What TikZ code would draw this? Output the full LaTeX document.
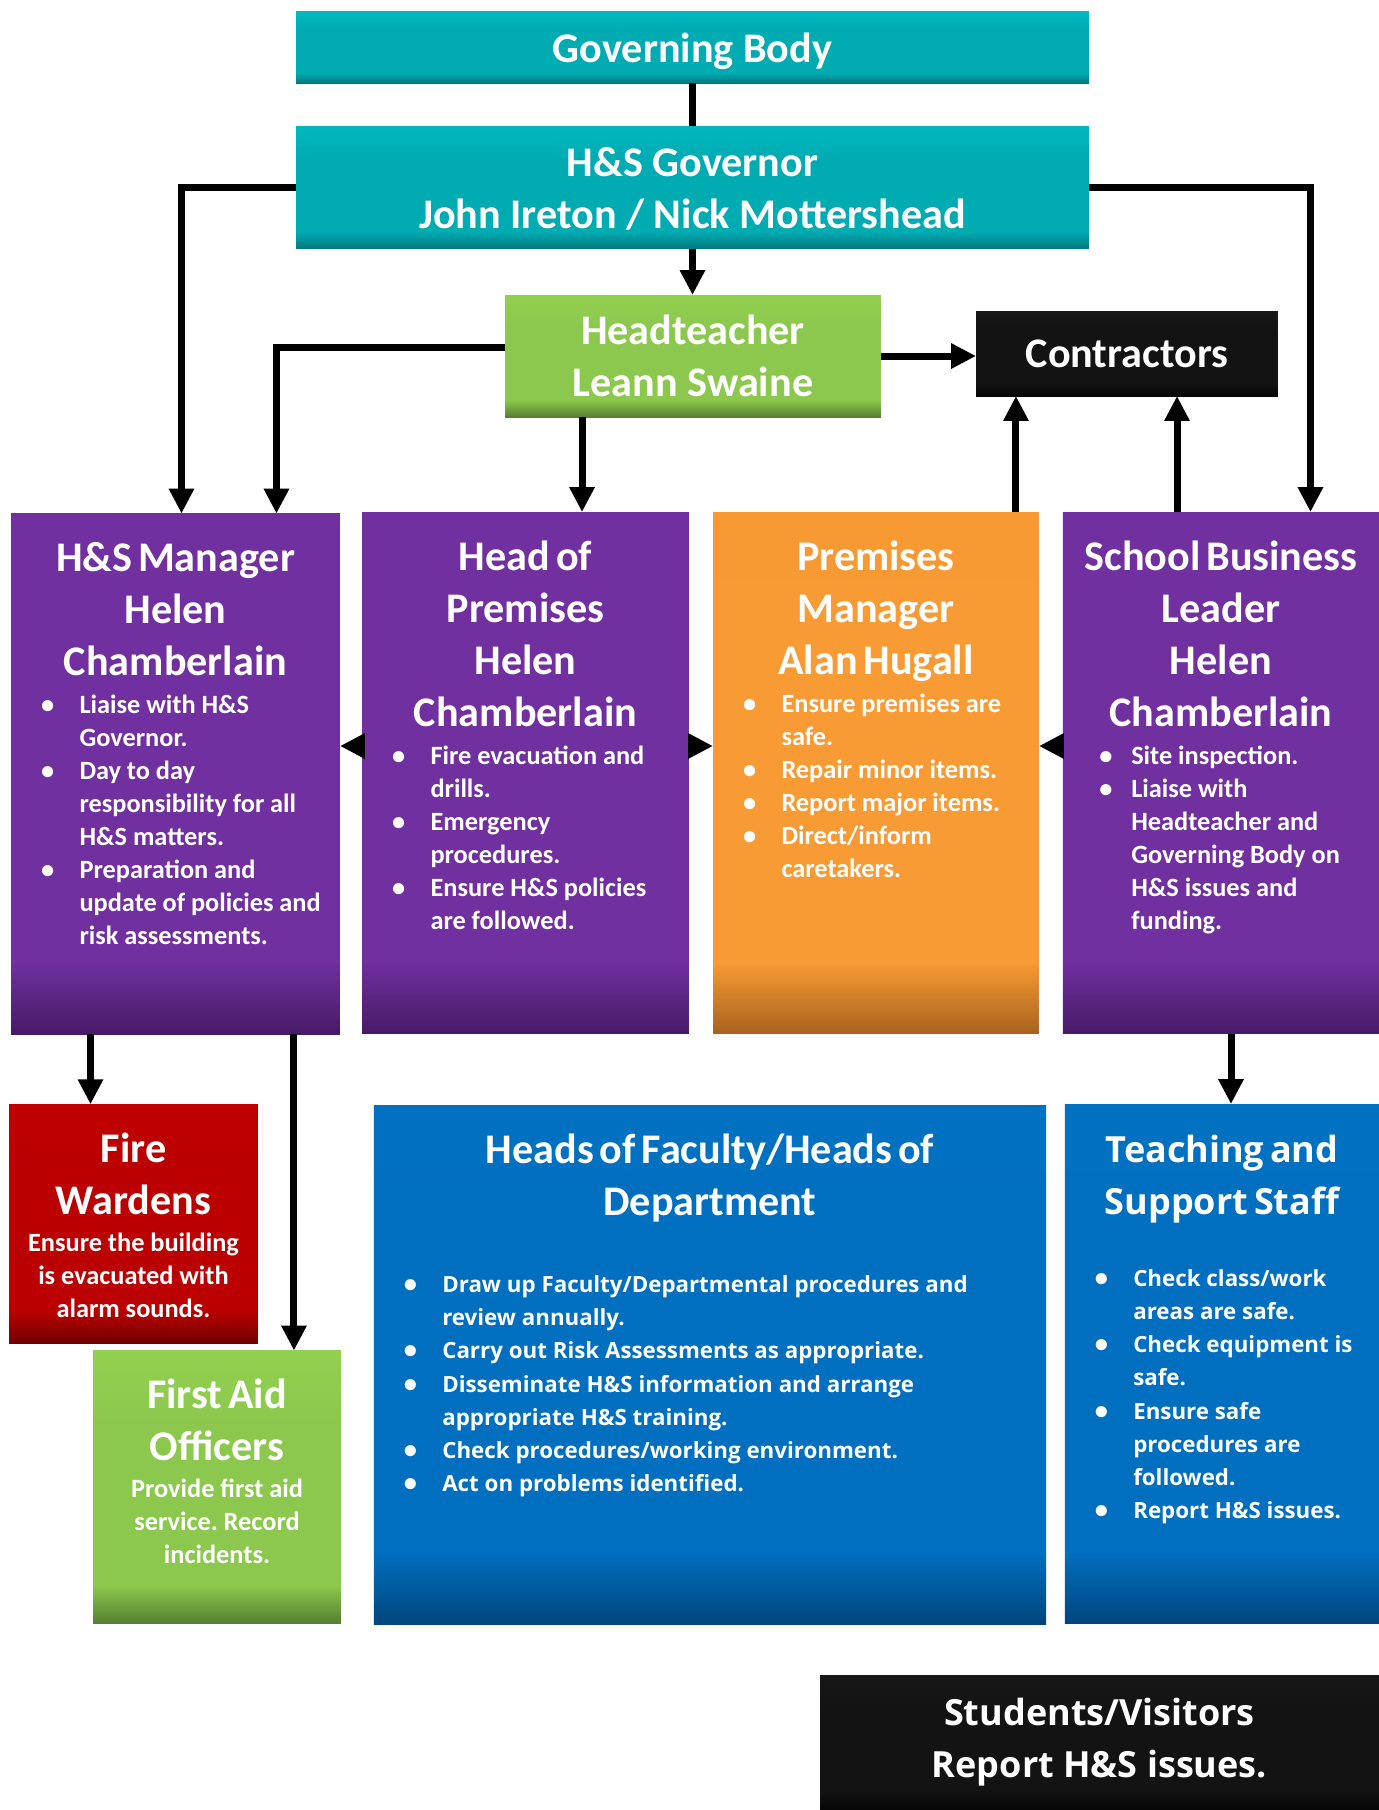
\documentclass[tikz,border=0pt]{standalone}
\usepackage{fontspec}
\setmainfont{Carlito}
\newfontfamily\segoe{Open Sans}
\usetikzlibrary{arrows.meta}
\frenchspacing

\definecolor{tealtop}{HTML}{00B8BF}
\definecolor{tealmid}{HTML}{00ABB2}
\definecolor{tealbot}{HTML}{00767A}
\definecolor{greentop}{HTML}{92D050}
\definecolor{greenmid}{HTML}{8CC84E}
\definecolor{greenbot}{HTML}{567F30}
\definecolor{purpletop}{HTML}{7030A0}
\definecolor{purplemid}{HTML}{7030A0}
\definecolor{purplebot}{HTML}{471A66}
\definecolor{orangetop}{HTML}{F79A33}
\definecolor{orangemid}{HTML}{F99B35}
\definecolor{orangebot}{HTML}{A8621F}
\definecolor{redtop}{HTML}{C00000}
\definecolor{redmid}{HTML}{BA0000}
\definecolor{redbot}{HTML}{700000}
\definecolor{bluetop}{HTML}{0070C0}
\definecolor{bluemid}{HTML}{006FBF}
\definecolor{bluebot}{HTML}{00457D}
\definecolor{blacktop}{HTML}{171717}
\definecolor{blackmid}{HTML}{131313}
\definecolor{blackbot}{HTML}{050505}

\newcommand{\boxshading}[4]{%
  \pgfdeclareverticalshading{#1}{100bp}{color(0bp)=(#4); color(25bp)=(#4);
    color(32bp)=(#3); color(62bp)=(#3); color(75bp)=(#2); color(100bp)=(#2)}}
\boxshading{tealshade}{tealtop}{tealmid}{tealbot}
\boxshading{greenshade}{greentop}{greenmid}{greenbot}
\boxshading{purpleshade}{purpletop}{purplemid}{purplebot}
\boxshading{orangeshade}{orangetop}{orangemid}{orangebot}
\boxshading{redshade}{redtop}{redmid}{redbot}
\boxshading{blueshade}{bluetop}{bluemid}{bluebot}
\boxshading{blackshade}{blacktop}{blackmid}{blackbot}

\newcommand{\titlefont}{\fontsize{24}{29.6}\selectfont}
\newcommand{\bodyfont}{\fontsize{15}{18.8}\selectfont}
\newcommand{\sgtitle}{\segoe\bfseries\fontsize{20.5}{29.6}\selectfont}
\newcommand{\sgbody}{\segoe\bfseries\fontsize{12.7}{18.9}\selectfont}

\newlength{\bldot}\setlength{\bldot}{0.6cm}
\newlength{\bltext}\setlength{\bltext}{1.37cm}
\newcommand{\boxtitle}[1]{{\centering\noindent\titlefont\strut#1\par}}
\newcommand{\boxnote}[1]{{\centering\noindent\bodyfont#1\par}}
\newcommand{\bitem}[1]{\par\hangindent=\bltext\hangafter=1\noindent
  \hbox to\bltext{\hskip\bldot{\rmfamily\fontsize{15}{15}\selectfont\textbullet}\hfil}#1\par}

\begin{document}
\begin{tikzpicture}[x=0.02cm, y=-0.02cm,
    box/.style={inner sep=0pt, outer sep=0pt, text=white, align=center,
      font=\bfseries\titlefont, shade},
    txt/.style={inner sep=0pt, anchor=north, text=white, align=left, font=\bfseries},
    link/.style={line width=0.14cm},
    arrow/.style={link, -{Triangle[length=0.5cm,width=0.48cm]}}]
    \useasboundingbox (0,0) rectangle (1379,1810);

    \node[box, shading=tealshade, minimum width=15.86cm, minimum height=1.43cm, text depth=0pt] (gov) at (692.5,47.5) {Governing Body};
    \node[box, shading=tealshade, minimum width=15.86cm, minimum height=2.46cm, text depth=0pt] (hsgov) at (692.5,187.5) {H\&S Governor\\John Ireton / Nick Mottershead};
    \node[box, shading=greenshade, minimum width=7.52cm, minimum height=2.44cm] (head) at (693,356) {Headteacher\\Leann Swaine};
    \node[box, shading=blackshade, minimum width=6.04cm, minimum height=1.7cm] (contr) at (1127,353.5) {Contractors};

    \node[box, shading=purpleshade, minimum width=6.58cm, minimum height=10.42cm] (hsman) at (175.5,774) {};
    \node[box, shading=purpleshade, minimum width=6.54cm, minimum height=10.44cm] (hop) at (525.5,773) {};
    \node[box, shading=orangeshade, minimum width=6.52cm, minimum height=10.44cm] (pm) at (876,773) {};
    \node[box, shading=purpleshade, minimum width=6.33cm, minimum height=10.44cm] (sbl) at (1221,773) {};

    \node[box, shading=redshade, minimum width=4.98cm, minimum height=4.79cm] (fire) at (133.5,1224) {};
    \node[box, shading=greenshade, minimum width=4.96cm, minimum height=5.46cm] (aid) at (217,1487) {};
    \node[box, shading=blueshade, minimum width=13.45cm, minimum height=10.4cm] (hof) at (710,1365) {};
    \node[box, shading=blueshade, minimum width=6.29cm, minimum height=10.4cm] (teach) at (1222,1364) {};
    \node[box, shading=blackshade, minimum width=11.18cm, minimum height=2.7cm,
      font=\sgtitle] (students) at (1099.5,1742.5) {Students/Visitors\\Report H\&S issues.};

    \node[txt, text width=6.58cm] (hsmantext) at ([yshift=-0.43cm]hsman.north) {\boxtitle{H\&S Manager\\Helen\\Chamberlain}
      \vspace{2.7pt}\bodyfont
      \bitem{Liaise with H\&S\newline Governor.}
      \bitem{Day to day\newline responsibility for all\newline H\&S matters.}
      \bitem{Preparation and\newline update of policies and\newline risk assessments.}};
    \node[txt, text width=6.54cm] (hoptext) at ([yshift=-0.43cm]hop.north) {\boxtitle{Head of\\Premises\\Helen\\Chamberlain}
      \vspace{2.7pt}\bodyfont
      \bitem{Fire evacuation and\newline drills.}
      \bitem{Emergency\newline procedures.}
      \bitem{Ensure H\&S policies\newline are followed.}};
    \node[txt, text width=6.52cm] (pmtext) at ([yshift=-0.43cm]pm.north) {\boxtitle{Premises\\Manager\\Alan Hugall}
      \vspace{2.7pt}\bodyfont
      \bitem{Ensure premises are\newline safe.}
      \bitem{Repair minor items.}
      \bitem{Report major items.}
      \bitem{Direct/inform\newline caretakers.}};
    \node[txt, text width=6.33cm] (sbltext) at ([yshift=-0.43cm]sbl.north) {\setlength{\bldot}{0.73cm}%
      \boxtitle{School Business\\Leader\\Helen\\Chamberlain}
      \vspace{2.7pt}\bodyfont
      \bitem{Site inspection.}
      \bitem{Liaise with\newline Headteacher and\newline Governing Body on\newline H\&S issues and\newline funding.}};

    \node[txt, text width=4.98cm] (firetext) at ([yshift=-0.43cm]fire.north) {\boxtitle{Fire\\Wardens}
      \vspace{2.2pt}\boxnote{Ensure the building\\is evacuated with\\alarm sounds.}};
    \node[txt, text width=4.96cm] (aidtext) at ([yshift=-0.43cm]aid.north) {\boxtitle{First Aid\\Officers}
      \vspace{2.2pt}\boxnote{Provide first aid\\service. Record\\incidents.}};
    \node[txt, text width=13.45cm] (hoftext) at ([yshift=-0.43cm]hof.north) {\boxtitle{Heads of Faculty/Heads of\\Department}
      \vspace{25pt}\sgbody
      \bitem{Draw up Faculty/Departmental procedures and\newline review annually.}
      \bitem{Carry out Risk Assessments as appropriate.}
      \bitem{Disseminate H\&S information and arrange\newline appropriate H\&S training.}
      \bitem{Check procedures/working environment.}
      \bitem{Act on problems identified.}};
    \node[txt, text width=6.29cm] (teachtext) at ([yshift=-0.43cm]teach.north) {{\centering\noindent\sgtitle\strut Teaching and\\Support Staff\par}
      \vspace{22pt}\sgbody
      \bitem{Check class/work\newline areas are safe.}
      \bitem{Check equipment is\newline safe.}
      \bitem{Ensure safe\newline procedures are\newline followed.}
      \bitem{Report H\&S issues.}};

    \coordinate (hsmandrop) at ([xshift=0.12cm]hsman.north);
    \coordinate (headside) at ([yshift=0.18cm]head.west);
    \coordinate (hsmanside) at ([xshift=2.02cm]hsman.north);
    \coordinate (sbldrop) at ([xshift=1.79cm]sbl.north);
    \coordinate (headdrop) at ([xshift=-2.22cm]head.south);
    \coordinate (pmup) at ([xshift=2.8cm]pm.north);
    \coordinate (sblup) at ([xshift=-0.88cm]sbl.north);
    \coordinate (hopleft) at ([yshift=0.54cm]hop.west);
    \coordinate (hopright) at ([yshift=0.54cm]hop.east);
    \coordinate (sblleft) at ([yshift=0.54cm]sbl.west);
    \coordinate (firedrop) at ([xshift=-1.7cm]hsman.south);
    \coordinate (aiddrop) at ([xshift=2.37cm]hsman.south);
    \coordinate (teachdrop) at ([xshift=0.2cm]sbl.south);

    \draw[link] (gov) -- (hsgov);
    \draw[arrow] (hsgov.south) -- (hsgov.south |- head.north);
    \draw[arrow] (hsgov.west) -| (hsmandrop);
    \draw[arrow] (hsgov.east) -| (sbldrop);
    \draw[arrow] (headside) -| (hsmanside);
    \draw[arrow] (headdrop) -- (headdrop |- hop.north);
    \draw[arrow] (head.east) -- (head.east -| contr.west);
    \draw[arrow] (pmup) -- (pmup |- contr.south);
    \draw[arrow] (sblup) -- (sblup |- contr.south);
    \draw[arrow] (hopleft) -- (hopleft -| hsman.east);
    \draw[arrow] (hopright) -- (hopright -| pm.west);
    \draw[arrow] (sblleft) -- (sblleft -| pm.east);
    \draw[arrow] (firedrop) -- (firedrop |- fire.north);
    \draw[arrow] (aiddrop) -- (aiddrop |- aid.north);
    \draw[arrow] (teachdrop) -- (teachdrop |- teach.north);
\end{tikzpicture}
\end{document}
